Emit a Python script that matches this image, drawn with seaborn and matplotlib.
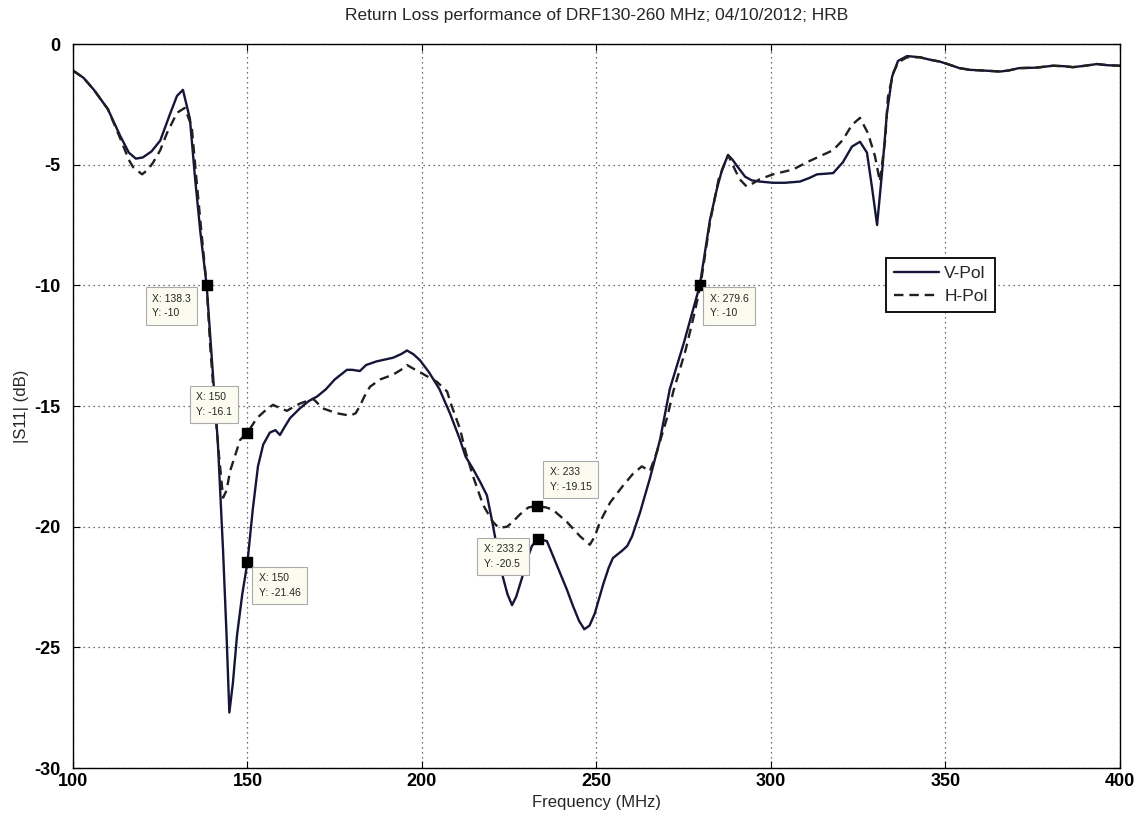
import matplotlib
matplotlib.use("Agg")
import matplotlib.pyplot as plt
import seaborn as sns
import numpy as np
import pandas as pd

# ---------------- data ----------------
v_freq = [100, 103, 106, 110, 113.5, 116, 118, 120, 122.5, 125, 127.8, 129.8, 131.5, 133.5, 135,
          136.5, 138.3, 140, 141.5, 143, 144, 144.8, 145.8, 147, 148.5, 150, 151.5, 153, 154.5,
          156.4, 158, 159.3, 160.5, 162.2, 165, 167.5, 170, 172.5, 175, 178.5, 180, 182.2, 184,
          187, 191.7, 194, 195.7, 197.5, 199.4, 202, 205, 208, 210.9, 212.5, 214.6, 216.5, 218.6,
          220, 220.9, 222, 223.2, 224.5, 225.8, 227, 228.7, 230, 231.5, 233.2, 235.8, 237.5,
          239.5, 241.5, 243.3, 245, 246.5, 248, 249.5, 251.9, 253.5, 254.7, 257.3, 258.8, 260.2,
          262.5, 265.3, 268.2, 271, 275, 279.6, 282.5, 284.5, 286, 287.7, 289, 290.5, 292.6,
          294.5, 296.8, 300.6, 304, 308.3, 311, 313.2, 317.8, 320.6, 323.2, 325.5, 327.5, 329,
          330.4, 331.8, 333.2, 334.7, 336.4, 339, 342.7, 345.5, 348.4, 351, 354, 357, 361, 365.6,
          368, 371, 376, 380.8, 384, 386.5, 390, 393.4, 396.5, 400]
v_db = [-1.1, -1.4, -1.9, -2.7, -3.8, -4.5, -4.75, -4.7, -4.45, -4.0, -2.9, -2.15, -1.9, -3.1, -5.6,
        -7.8, -10.0, -13.5, -16.5, -21.0, -24.5, -27.7, -26.5, -24.5, -22.8, -21.46, -19.3, -17.5, -16.6,
        -16.1, -16.0, -16.2, -15.9, -15.5, -15.1, -14.8, -14.6, -14.3, -13.9, -13.5, -13.5, -13.55, -13.3,
        -13.15, -13.0, -12.85, -12.7, -12.85, -13.1, -13.6, -14.3, -15.3, -16.4, -17.1, -17.6, -18.1, -18.7,
        -19.7, -20.4, -21.2, -22.1, -22.8, -23.25, -22.9, -22.1, -21.4, -20.8, -20.5, -20.6, -21.2,
        -21.9, -22.6, -23.3, -23.9, -24.25, -24.1, -23.6, -22.4, -21.7, -21.3, -21.0, -20.8, -20.4,
        -19.4, -18.0, -16.4, -14.3, -12.4, -10.0, -7.3, -6.0, -5.2, -4.6, -4.8, -5.1, -5.5,
        -5.65, -5.7, -5.75, -5.75, -5.7, -5.55, -5.4, -5.35, -4.9, -4.25, -4.05, -4.5, -6.0,
        -7.5, -5.35, -2.9, -1.35, -0.7, -0.5, -0.55, -0.65, -0.73, -0.85, -1.0, -1.07, -1.1, -1.14,
        -1.1, -1.0, -0.98, -0.9, -0.92, -0.96, -0.9, -0.83, -0.88, -0.9]

h_freq = [100, 103, 106, 110, 113.5, 116, 117.2, 119.8, 121.5, 123, 125, 126.9, 129.8, 132, 134,
          135.5, 136.8, 138.3, 139.3, 140.5, 141.8, 143, 144, 145, 147.9, 150, 152.7, 155, 157.3,
          159.5, 161.3, 163, 165, 168.8, 171.6, 175.6, 179.4, 181, 182.2, 183.5, 185.1, 188, 191.7,
          194, 195.7, 197.5, 199.4, 204.3, 207.2, 208.5, 210.9, 212.5, 214.6, 217.5, 220.3, 222,
          224.4, 226, 228, 230.5, 233, 235.5, 237.5, 241.5, 245.3, 248.1, 249.5, 251, 253.9, 257.6,
          260.5, 263, 265.3, 267.3, 270.2, 272, 275.5, 278, 279.8, 282.5, 285, 287.7, 289, 291, 293,
          294.5, 296.8, 300.6, 306.3, 310.3, 314, 317.8, 320.6, 323.2, 325.5, 327.8, 329.8, 331.2,
          332.7, 333.5, 335, 336.5, 339, 342.7, 345.5, 348.4, 351, 354, 357, 361, 365.6, 368, 371,
          376, 380.8, 384, 386.5, 390, 393.4, 396.5, 400]
h_db = [-1.1, -1.4, -1.9, -2.7, -3.9, -4.8, -5.1, -5.4, -5.2, -4.9, -4.4, -3.7, -2.85, -2.65, -3.4,
        -5.8, -7.8, -10.0, -12.5, -14.8, -17.0, -18.8, -18.5, -17.7, -16.4, -16.1, -15.5, -15.2, -14.95,
        -15.1, -15.2, -15.05, -14.9, -14.7, -15.1, -15.3, -15.4, -15.3, -15.0, -14.6, -14.2, -13.9, -13.7,
        -13.5, -13.3, -13.45, -13.6, -14.0, -14.4, -15.0, -15.95, -16.9, -17.9, -19.1, -19.8, -20.05,
        -20.0, -19.8, -19.5, -19.2, -19.15, -19.2, -19.3, -19.8, -20.4, -20.75, -20.4, -19.8, -19.0, -18.3,
        -17.8, -17.5, -17.7, -16.9, -15.5, -14.4, -12.7, -11.2, -10.0, -7.4, -5.6, -4.6, -5.0, -5.6, -5.9,
        -5.8, -5.6, -5.4, -5.2, -4.9, -4.65, -4.4, -3.97, -3.35, -3.06, -3.7, -4.65, -5.7,
        -4.0, -2.2, -1.2, -0.75, -0.55, -0.55, -0.65, -0.73, -0.85, -1.0, -1.07, -1.1, -1.14, -1.1, -1.0,
        -0.98, -0.9, -0.92, -0.96, -0.9, -0.83, -0.88, -0.9]

tip_x = [138.3, 150, 150, 233, 233.2, 279.6]
tip_y = [-10, -16.1, -21.46, -19.15, -20.5, -10]
tip_labels = ["X: 138.3\nY: -10", "X: 150\nY: -16.1", "X: 150\nY: -21.46",
              "X: 233\nY: -19.15", "X: 233.2\nY: -20.5", "X: 279.6\nY: -10"]

series_names = ["V-Pol", "H-Pol"]
title_text = "Return Loss performance of DRF130-260 MHz; 04/10/2012; HRB"
x_label = "Frequency (MHz)"
y_label = "|S11| (dB)"
x_ticks = [100, 150, 200, 250, 300, 350, 400]
y_ticks = [0, -5, -10, -15, -20, -25, -30]

# ---------------- styling ----------------
sns.set_theme(style="white")
plt.rcParams["font.family"] = ["Liberation Sans", "DejaVu Sans"]
plt.rcParams["axes.unicode_minus"] = False

df = pd.concat([
    pd.DataFrame({"freq": v_freq, "db": v_db, "pol": series_names[0]}),
    pd.DataFrame({"freq": h_freq, "db": h_db, "pol": series_names[1]}),
])

fig = plt.figure(figsize=(11.46, 8.18), dpi=100)
ax = fig.add_axes([0.0637, 0.0611, 0.9136, 0.8851])

sns.lineplot(data=df, x="freq", y="db", hue="pol", style="pol",
             palette={series_names[0]: "#15153a", series_names[1]: "#202020"},
             dashes={series_names[0]: "", series_names[1]: (4, 2.5)},
             estimator=None, sort=False, linewidth=1.7, ax=ax)

ax.set_xlim(100, 400)
ax.set_ylim(-30, 0)
ax.set_xticks(x_ticks)
ax.set_yticks(y_ticks)
ax.grid(True, linestyle=(0, (1, 3)), color="#444444", linewidth=0.9)
for s in ax.spines.values():
    s.set_color("black")
    s.set_linewidth(1.0)
ax.tick_params(direction="in", length=5, width=0.8, top=True, right=True,
               labelsize=13, colors="black", bottom=True, left=True)
ax.tick_params(axis="y", pad=9)
for lab in ax.get_xticklabels() + ax.get_yticklabels():
    lab.set_fontweight("bold")
ax.set_xlabel(x_label, fontsize=12, labelpad=4)
ax.set_ylabel(y_label, fontsize=12, labelpad=4)
ax.set_title(title_text, fontsize=12.5, pad=17)

# data tips
offsets = [(-39, -6), (-37, 29), (8, -8), (9, 28), (-39, -4), (7, -6)]
ax.scatter(tip_x, tip_y, marker="s", s=45, color="black", zorder=5)
for tx, ty, lab, off in zip(tip_x, tip_y, tip_labels, offsets):
    ax.annotate(lab, xy=(tx, ty), xytext=off, textcoords="offset points",
                ha="left", va="top", fontsize=7.5, linespacing=1.6,
                bbox=dict(boxstyle="square,pad=0.6", fc="#fbfbef", ec="#aaaaaa", lw=0.8),
                zorder=6)

leg = ax.legend(loc="upper right", bbox_to_anchor=(0.881, 0.704), fontsize=12.5,
                frameon=True, fancybox=False, edgecolor="black", framealpha=1,
                handlelength=2.6, borderpad=0.45, labelspacing=0.45, borderaxespad=0,
                handletextpad=0.3)
leg.get_frame().set_linewidth(1.3)

fig.savefig("out.png", dpi=100)
